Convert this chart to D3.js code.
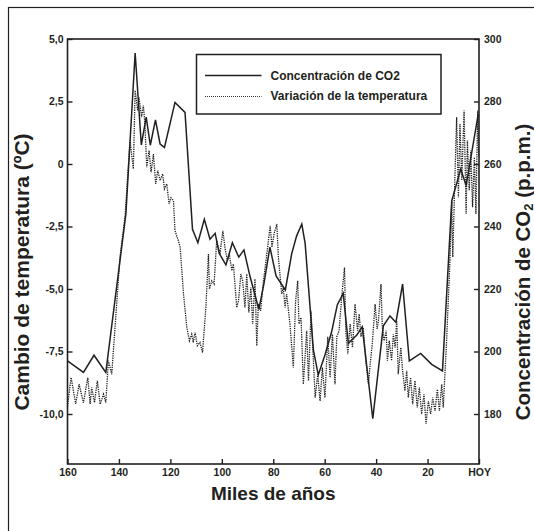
<!DOCTYPE html>
<html>
<head>
<meta charset="utf-8">
<script src="https://cdn.jsdelivr.net/npm/d3@7"></script>
<style>
  body { margin: 0; background: #fff; }
  text { font-family: "Liberation Sans", Arial, sans-serif; font-weight: bold; fill: #231f20; }
</style>
</head>
<body>
<div id="chart"></div>
<script>
// Concentración de CO2 (miles de años, p.p.m.)
const co2Years = [160, 153.8, 149.7, 145.1, 137.3, 133.7, 131.3, 129.4, 127.8, 125.8, 124.0, 122.3, 118.2, 114.3,
  111.4, 109.3, 106.8, 104.6, 102.6, 101.0, 98.4, 95.9, 93.4, 91.4, 89.0, 85.6, 83.6, 81.3, 78.9, 75.3,
  72.8, 70.9, 68.9, 67.6, 64.4, 62.5, 59.9, 57.3, 55.1, 52.8, 50.8, 47.5, 45.4, 41.3, 37.2, 34.6, 32.3,
  29.7, 27.1, 22.7, 18.4, 14.2, 10.6, 7.1, 5.0, 0.3];
const co2Values = [197.0, 193.3, 198.8, 193.3, 244.0, 295.5, 266.1, 275.0, 266.0, 274.1, 266.4, 265.3, 279.7, 276.5,
  239.1, 234.8, 242.3, 235.9, 237.8, 231.4, 227.7, 234.8, 230.2, 232.5, 223.9, 213.5, 221.8, 233.4, 224.2, 219.7,
  231.4, 237.0, 240.8, 234.6, 200.5, 192.5, 198.9, 206.3, 214.9, 218.6, 202.6, 205.3, 207.9, 178.5, 208.2, 211.4, 209.3,
  221.6, 197.0, 199.4, 195.9, 193.8, 248.2, 258.4, 253.1, 276.0];

// Variación de la temperatura (miles de años, ºC)
const tempYears = [160, 158.6, 156.8, 155.5, 153.8, 152.1, 151.2, 150.6, 149.5, 148.4, 147.3, 146.0, 145.1, 144.1, 142.8,
  139.6, 137.6, 135.7, 134.4, 133.7, 132.7, 132.2, 131.2, 130.5, 129.9, 129.2, 128.3, 127.5, 126.6, 125.7, 124.9,
  124.0, 123.0, 122.3, 121.4, 120.5, 119.8, 118.8, 118.2, 116.9, 116.2, 114.9, 113.6, 112.6, 111.7, 111.1, 110.4,
  109.5, 108.5, 107.5, 106.2, 105.2, 104.8, 103.9, 103.0, 102.0, 100.7, 99.6, 98.7, 97.8, 97.1, 96.1, 95.5, 94.2,
  93.5, 92.6, 91.9, 91.0, 90.3, 89.5, 88.7, 88.0, 87.1, 86.4, 85.8, 84.9, 83.8, 82.5, 81.2, 80.5, 79.7, 78.6, 78.0,
  76.7, 76.1, 75.4, 74.8, 73.5, 72.2, 71.3, 70.5, 70.0, 69.2, 68.3, 67.0, 66.3, 65.3, 64.4, 63.7, 62.7, 61.8, 60.9,
  59.9, 58.8, 57.9, 57.0, 56.0, 55.3, 54.4, 53.4, 52.3, 51.8, 51.0, 50.1, 49.2, 48.2, 47.2, 46.6, 45.9, 45.0, 44.0,
  43.0, 42.3, 41.5, 40.4, 39.6, 39.1, 38.1, 37.6, 36.9, 36.1, 35.6, 34.9, 34.0, 33.3, 32.6, 32.0, 31.4, 30.4, 29.7,
  28.8, 28.1, 27.5, 26.6, 25.8, 24.9, 24.0, 23.2, 22.3, 21.4, 20.6, 19.7, 18.8, 18.0, 17.1, 16.2, 15.4, 14.5, 13.9,
  12.6, 11.3, 10.6, 10.2, 9.3, 8.7, 8.0, 7.4, 6.7, 5.8, 5.0, 4.5, 3.8, 3.2, 2.5, 1.8, 1.2, 0.5, 0.1];
const tempValues = [-9.7, -8.54, -9.6, -8.81, -9.55, -8.54, -9.6, -8.94, -9.54, -8.67, -9.61, -9.21, -9.54, -7.87, -8.41,
  -3.73, -2.07, 0.94, -0.2, 2.94, 2.14, 2.67, 1.87, 2.34, 1.6, -0.13, 0.54, -0.33, 0.4, -0.8, -0.26,
  -0.66, -0.4, -1.0, -0.8, -1.6, -1.35, -1.47, -2.67, -3.07, -3.33, -5.2, -6.54, -7.07, -6.81, -7.14, -6.74,
  -7.27, -7.14, -7.54, -5.74, -3.6, -5.0, -4.67, -4.8, -3.07, -3.6, -2.67, -3.4, -3.87, -3.6, -4.27, -4.0, -5.74,
  -5.47, -4.4, -4.67, -5.74, -4.4, -5.94, -4.94, -6.4, -4.6, -7.27, -5.6, -5.87, -4.67, -3.6, -2.47, -3.33, -2.8, -2.4, -3.73,
  -5.2, -4.94, -5.74, -5.2, -6.4, -8.14, -5.47, -4.67, -6.4, -6.14, -8.81, -6.67, -8.67, -5.87, -7.87, -9.34, -8.41, -9.48, -8.14,
  -9.34, -6.91, -8.54, -6.81, -8.81, -6.91, -6.67, -5.34, -4.14, -6.67, -7.61, -6.4, -7.34, -5.6, -6.67, -6.0, -6.91, -6.54, -7.87,
  -8.81, -8.0, -7.2, -5.6, -6.6, -6.27, -4.8, -6.5, -7.07, -6.67, -7.87, -7.07, -7.87, -6.81, -7.34, -6.27, -8.41, -7.34, -8.27,
  -9.07, -8.27, -9.34, -8.54, -9.61, -8.67, -9.74, -8.94, -10.0, -9.21, -10.4, -9.48, -10.0, -9.34, -9.88, -9.01, -9.88, -8.81, -9.74,
  -7.07, -3.87, -1.47, -3.73, -0.26, 1.87, -1.33, 1.6, -0.66, 2.14, -2.0, 0.94, -1.06, 0.54, -1.73, 0.27, -2.0, 2.14, 0.3];

// Ejes
const yearTicks = [160, 140, 120, 100, 80, 60, 40, 20, 0];
const yearLabels = ["160", "140", "120", "100", "80", "60", "40", "20", "HOY"];
const tempTicks = [5, 2.5, 0, -2.5, -5, -7.5, -10];
const tempLabels = ["5,0", "2,5", "0", "-2,5", "-5,0", "-7,5", "-10,0"];
const co2Ticks = [300, 280, 260, 240, 220, 200, 180];

const width = 534, height = 531;
const plotLeft = 67.5, plotRight = 479, plotTop = 39, plotBottom = 464;

const svg = d3.select('#chart').append('svg')
  .attr('width', width)
  .attr('height', height);

// Marco exterior (recortado por abajo y a la derecha)
svg.append('rect')
  .attr('x', 8.5).attr('y', 7.5)
  .attr('width', 600).attr('height', 600)
  .attr('fill', 'none').attr('stroke', '#231f20').attr('stroke-width', 1.2);

const x = d3.scaleLinear().domain([160, 0]).range([plotLeft, plotRight]);
const yT = d3.scaleLinear().domain([-12, 5]).range([plotBottom, plotTop]);
const yC = d3.scaleLinear().domain([164, 300]).range([plotBottom, plotTop]);

const styleAxis = g => {
  g.select('.domain').remove();
  g.selectAll('.tick line').attr('stroke', '#231f20').attr('stroke-width', 1.4);
  g.selectAll('.tick text').style('font-size', '10.5px').attr('fill', '#231f20');
};

svg.append('g')
  .attr('transform', `translate(${plotLeft},0)`)
  .call(d3.axisLeft(yT).tickValues(tempTicks).tickSizeInner(-5).tickSizeOuter(0).tickPadding(4)
    .tickFormat((d, i) => tempLabels[i]))
  .call(styleAxis);

svg.append('g')
  .attr('transform', `translate(${plotRight},0)`)
  .call(d3.axisRight(yC).tickValues(co2Ticks).tickSizeInner(-5).tickSizeOuter(0).tickPadding(5))
  .call(styleAxis);

svg.append('g')
  .attr('transform', `translate(0,${plotBottom})`)
  .call(d3.axisBottom(x).tickValues(yearTicks).tickSizeInner(-5).tickSizeOuter(0).tickPadding(5)
    .tickFormat((d, i) => yearLabels[i]))
  .call(styleAxis);

// Curva de temperatura (punteada)
const tempLine = d3.line().x(d => x(d[0])).y(d => yT(d[1]));
svg.append('path')
  .attr('d', tempLine(d3.zip(tempYears, tempValues)))
  .attr('fill', 'none')
  .attr('stroke', '#222')
  .attr('stroke-width', 1.3)
  .attr('stroke-dasharray', '1.3,1');

// Curva de CO2 (continua)
const co2Line = d3.line().x(d => x(d[0])).y(d => yC(d[1]));
svg.append('path')
  .attr('d', co2Line(d3.zip(co2Years, co2Values)))
  .attr('fill', 'none')
  .attr('stroke', '#231f20')
  .attr('stroke-width', 1.5)
  .attr('stroke-linejoin', 'miter');

// Caja del gráfico
svg.append('rect')
  .attr('x', plotLeft).attr('y', plotTop)
  .attr('width', plotRight - plotLeft).attr('height', plotBottom - plotTop)
  .attr('fill', 'none').attr('stroke', '#231f20').attr('stroke-width', 1.6);

// Leyenda
const legend = svg.append('g');
legend.append('rect')
  .attr('x', 196.5).attr('y', 54.5).attr('width', 244.5).attr('height', 59.5)
  .attr('fill', '#fff').attr('stroke', '#231f20').attr('stroke-width', 1.5);
legend.append('line')
  .attr('x1', 205).attr('x2', 261.5).attr('y1', 75.5).attr('y2', 75.5)
  .attr('stroke', '#231f20').attr('stroke-width', 1.5);
legend.append('line')
  .attr('x1', 205).attr('x2', 261.5).attr('y1', 96.5).attr('y2', 96.5)
  .attr('stroke', '#333').attr('stroke-width', 1.2).attr('stroke-dasharray', '1,1');
legend.append('text').attr('x', 270.5).attr('y', 79.5).style('font-size', '12px')
  .text('Concentración de CO2');
legend.append('text').attr('x', 270.5).attr('y', 100).style('font-size', '12px')
  .text('Variación de la temperatura');

// Títulos de los ejes
svg.append('text')
  .attr('x', (plotLeft + plotRight) / 2).attr('y', 500)
  .attr('text-anchor', 'middle')
  .style('font-size', '19px')
  .text('Miles de años');

svg.append('text')
  .attr('transform', 'translate(29,272) rotate(-90)')
  .attr('text-anchor', 'middle')
  .style('font-size', '21px')
  .text('Cambio de temperatura (ºC)');

const rightTitle = svg.append('text')
  .attr('transform', 'translate(529.5,272) rotate(-90)')
  .attr('text-anchor', 'middle')
  .style('font-size', '20.5px');
rightTitle.append('tspan').text('Concentración de CO');
rightTitle.append('tspan').attr('dy', 3).style('font-size', '13px').text('2');
rightTitle.append('tspan').attr('dy', -3).text(' (p.p.m.)');
</script>
</body>
</html>
